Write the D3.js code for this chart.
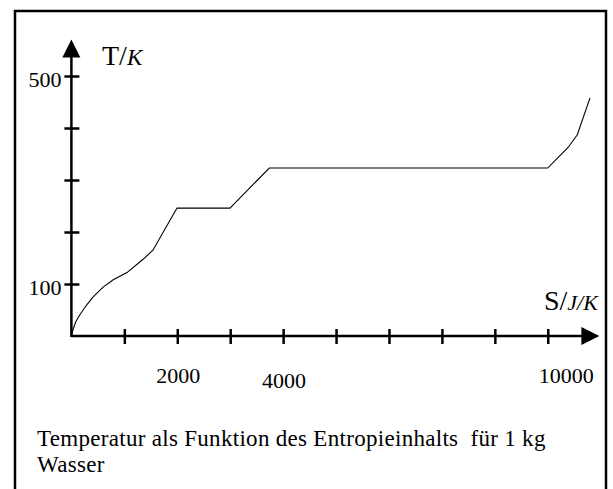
<!DOCTYPE html>
<html>
<head>
<meta charset="utf-8">
<script src="https://cdn.jsdelivr.net/npm/d3@7"></script>
<style>
  html, body { margin: 0; padding: 0; background: #fff; }
  svg { display: block; }
  text { font-family: "Liberation Serif", "Times New Roman", serif; fill: #000; }
</style>
</head>
<body>
<svg id="chart" width="613" height="489"></svg>
<script>
// Entropy S (J/K) and temperature T (K) of 1 kg water
const entropy = [0, 30, 80, 160, 290, 420, 600, 790, 1050, 1360, 1540, 1995, 2996, 3739, 8999, 9388, 9558, 9798];
const temperature = [0, 12, 27, 41, 60, 76, 94, 108, 122, 148, 165, 246, 246, 323, 323, 363, 387, 458];

const xTicks = [1000, 2000, 3000, 4000, 5000, 6000, 7000, 8000, 9000];
const xTickLabels = ["2000", "4000", "10000"];
const xLabelValues = [2000, 4000, 10000];
const yTicks = [100, 200, 300, 400, 500];
const yTickLabels = ["100", "500"];
const yLabelValues = [100, 500];

const caption = ["Temperatur als Funktion des Entropieinhalts  für 1 kg", "Wasser"];

const svg = d3.select("#chart");
svg.append("rect").attr("width", 613).attr("height", 489).attr("fill", "#fff");

// open frame (no bottom edge)
svg.append("path")
  .attr("d", "M15,489V11H606V489")
  .attr("fill", "none").attr("stroke", "#000").attr("stroke-width", 2.5);

const x = d3.scaleLinear().domain([0, 10000]).range([71.4, 600.7]);
const y = d3.scaleLinear().domain([0, 500]).range([336, 76]);

const axisW = 2.5;
const x0 = x(0), y0 = y(0);
const xTip = x(9975), yTip = y(570);
const headLen = 18, headHalf = 9;

// x axis with arrow
svg.append("line").attr("x1", x0).attr("x2", xTip - headLen + 1).attr("y1", y0).attr("y2", y0)
  .attr("stroke", "#000").attr("stroke-width", axisW);
svg.append("path")
  .attr("d", `M${xTip},${y0}L${xTip - headLen},${y0 - headHalf}L${xTip - headLen},${y0 + headHalf}Z`)
  .attr("fill", "#000");

// y axis with arrow
svg.append("line").attr("x1", x0).attr("x2", x0).attr("y1", y0 + 1).attr("y2", yTip + headLen - 1)
  .attr("stroke", "#000").attr("stroke-width", axisW);
svg.append("path")
  .attr("d", `M${x0},${yTip}L${x0 - headHalf},${yTip + headLen}L${x0 + headHalf},${yTip + headLen}Z`)
  .attr("fill", "#000");

// tick marks crossing the axes
const xAxis = d3.axisBottom(x).tickValues(xTicks).tickSize(15).tickFormat("");
const gx = svg.append("g").attr("transform", `translate(0,${y0})`).call(xAxis);
gx.select(".domain").remove();
gx.selectAll(".tick line").attr("y1", -7).attr("y2", 8).attr("stroke", "#000").attr("stroke-width", axisW);

const yAxis = d3.axisLeft(y).tickValues(yTicks).tickSize(15).tickFormat("");
const gy = svg.append("g").attr("transform", `translate(${x0},0)`).call(yAxis);
gy.select(".domain").remove();
gy.selectAll(".tick line").attr("x1", -7).attr("x2", 8).attr("stroke", "#000").attr("stroke-width", axisW);

// tick labels
const labelSize = 22;
const xLabelDy = { 2000: 0, 4000: 5, 10000: 0 };
svg.selectAll("text.xl").data(xLabelValues).join("text")
  .attr("class", "xl")
  .attr("x", d => d === 10000 ? x(d) - 7 : x(d) + 1)
  .attr("y", d => 383 + xLabelDy[d])
  .attr("text-anchor", d => d === 10000 ? "end" : "middle")
  .attr("font-size", labelSize)
  .text((d, i) => xTickLabels[i]);

svg.selectAll("text.yl").data(yLabelValues).join("text")
  .attr("class", "yl")
  .attr("x", x0 - 10)
  .attr("y", d => y(d) + 11)
  .attr("text-anchor", "end")
  .attr("font-size", labelSize)
  .text((d, i) => yTickLabels[i]);

// axis titles
const tTitle = svg.append("text").attr("x", 102).attr("y", 65).attr("font-size", 28);
tTitle.append("tspan").text("T/");
tTitle.append("tspan").attr("font-style", "italic").attr("font-size", 23).text("K");

const sTitle = svg.append("text").attr("x", 544).attr("y", 310).attr("font-size", 28);
sTitle.append("tspan").text("S/");
sTitle.append("tspan").attr("font-style", "italic").attr("font-size", 22).text("J/K");

// curve
const pts = entropy.map((s, i) => [s, temperature[i]]);
const line = d3.line().x(d => x(d[0])).y(d => y(d[1])).curve(d3.curveLinear);
svg.append("path").datum(pts).attr("d", line)
  .attr("fill", "none").attr("stroke", "#000").attr("stroke-width", 1.1);

// caption, wrapped over two lines in one text block
const cap = svg.append("text")
  .attr("x", 37).attr("y", 446)
  .attr("font-size", 23)
  .attr("letter-spacing", 0.3)
  .attr("xml:space", "preserve")
  .style("white-space", "pre");
cap.selectAll("tspan").data(caption).join("tspan")
  .attr("x", 37)
  .attr("dy", (d, i) => i === 0 ? 0 : 25.5)
  .text(d => d);
</script>
</body>
</html>
